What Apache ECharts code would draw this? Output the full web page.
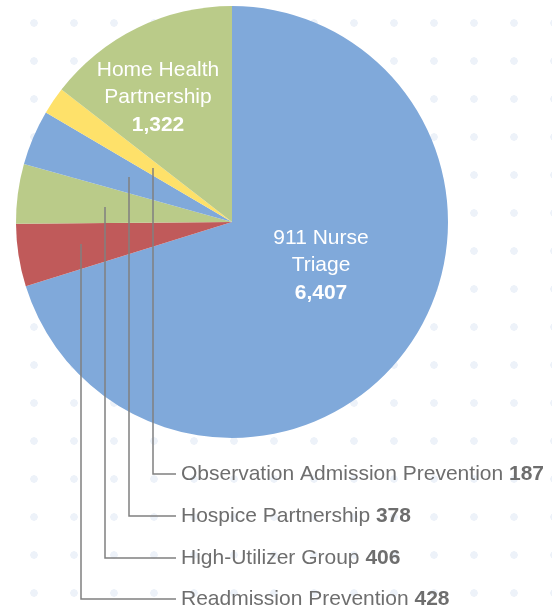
<!DOCTYPE html>
<html>
<head>
<meta charset="utf-8">
<script src="https://cdn.jsdelivr.net/npm/echarts@6/dist/echarts.min.js"></script>
<style>
  html, body { margin: 0; padding: 0; background: #ffffff; }
  body {
    background-image: radial-gradient(circle, #edf2f9 3.5px, rgba(255,255,255,0) 4px);
    background-size: 40px 38px;
    background-position: 14px 4px;
  }
  #chart { width: 552px; height: 611px; }
</style>
</head>
<body>
<div id="chart"></div>
<script>
const categories = [
  '911 Nurse Triage',
  'Readmission Prevention',
  'High-Utilizer Group',
  'Hospice Partnership',
  'Observation Admission Prevention',
  'Home Health Partnership'
];
const values = [6407, 428, 406, 378, 187, 1322];
const insideLines = [['911 Nurse', 'Triage'], null, null, null, null, ['Home Health', 'Partnership']];
const colors = ['#80a9da', '#c05a5a', '#bacb89', '#80a9da', '#fee16a', '#bacb89'];

// label placement (layout only)
const insideLabelPos = { 0: [321, 266], 5: [158, 98] };
const outsideLabelPos = {
  1: { lineX: 81, lineTop: 244, y: 599 },
  2: { lineX: 105, lineTop: 207, y: 558 },
  3: { lineX: 129, lineTop: 177, y: 516 },
  4: { lineX: 153, lineTop: 168, y: 474 }
};
const textX = 181, lineEndX = 176;

const FONT = 'Liberation Sans, Arial, sans-serif';
const fmt = v => v.toLocaleString('en-US');

// base series: slices + inside labels
const sliceData = categories.map((name, i) => {
  const inside = insideLines[i] !== null;
  return {
    name: name,
    value: values[i],
    itemStyle: { color: colors[i] },
    label: inside ? {
      show: true,
      position: 'inside',
      formatter: '{n|' + insideLines[i][0] + '}\n{n|' + insideLines[i][1] + '}\n{b|' + fmt(values[i]) + '}',
      align: 'center',
      rich: {
        n: { color: '#ffffff', fontSize: 21, lineHeight: 27, fontFamily: FONT, fontWeight: 'normal' },
        b: { color: '#ffffff', fontSize: 21, lineHeight: 29, fontFamily: FONT, fontWeight: 'bold' }
      }
    } : { show: false },
    labelLine: { show: false }
  };
});

// overlay series: transparent slices carrying callout labels drawn on top
const calloutData = categories.map((name, i) => {
  const inside = insideLines[i] !== null;
  return {
    name: name,
    value: values[i],
    itemStyle: { color: 'rgba(0,0,0,0)' },
    label: inside ? { show: false } : {
      show: true,
      position: 'outside',
      formatter: '{n|' + name + ' }{b|' + fmt(values[i]) + '}',
      rich: {
        n: { color: '#6e6e6e', fontSize: 21, fontFamily: FONT },
        b: { color: '#6e6e6e', fontSize: 21, fontFamily: FONT, fontWeight: 'bold' }
      }
    },
    labelLine: { show: !inside }
  };
});

const pieBase = {
  type: 'pie',
  center: [232, 222],
  radius: 216,
  startAngle: 90,
  clockwise: true,
  avoidLabelOverlap: false,
  itemStyle: { borderWidth: 0 },
  emphasis: { disabled: true },
  silent: true
};

const chart = echarts.init(document.getElementById('chart'), null, { renderer: 'canvas' });
chart.setOption({
  backgroundColor: 'transparent',
  animation: false,
  series: [
    Object.assign({}, pieBase, {
      z: 2,
      data: sliceData,
      labelLayout: function (params) {
        const p = insideLabelPos[params.dataIndex];
        if (!p) return {};
        return { x: p[0], y: p[1], align: 'center', verticalAlign: 'middle' };
      }
    }),
    Object.assign({}, pieBase, {
      z: 5,
      data: calloutData,
      labelLine: { show: true, lineStyle: { color: '#808080', width: 1.5 } },
      labelLayout: function (params) {
        const p = outsideLabelPos[params.dataIndex];
        if (!p) return {};
        return {
          x: textX,
          y: p.y,
          align: 'left',
          verticalAlign: 'middle',
          labelLinePoints: [[p.lineX, p.lineTop], [p.lineX, p.y], [lineEndX, p.y]]
        };
      }
    })
  ]
});
</script>
</body>
</html>
